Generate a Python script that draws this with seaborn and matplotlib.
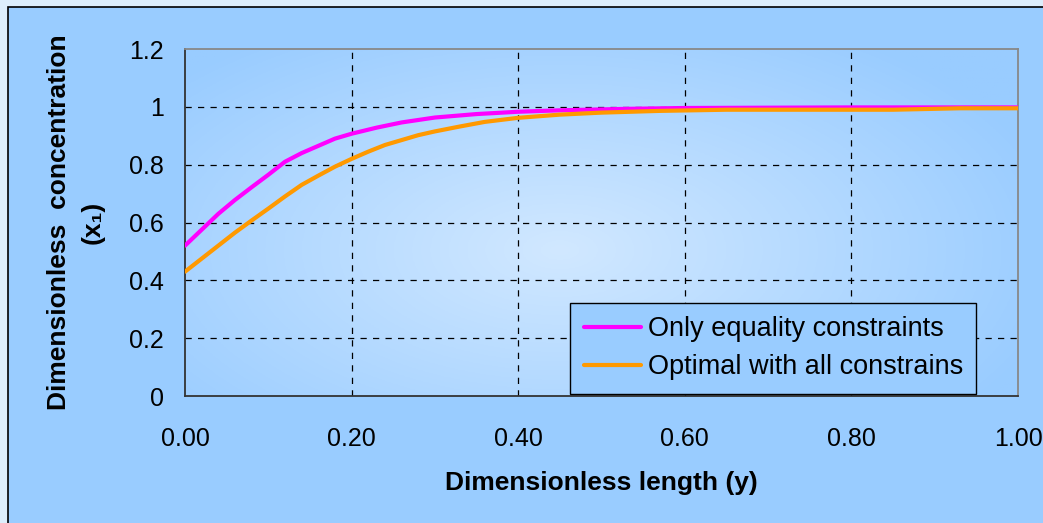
import matplotlib
matplotlib.use("Agg")
import matplotlib.pyplot as plt
import seaborn as sns
import pandas as pd
import numpy as np
from matplotlib.patches import Rectangle
from matplotlib.ticker import FuncFormatter

# series values
eq_x = [0.00, 0.02, 0.04, 0.06, 0.08, 0.10, 0.12, 0.14, 0.16, 0.18, 0.20,
        0.23, 0.26, 0.30, 0.35, 0.40, 0.45, 0.53, 0.60, 0.70, 0.80, 0.90, 1.00]
eq_y = [0.52, 0.575, 0.63, 0.678, 0.722, 0.765, 0.81, 0.84, 0.865, 0.89, 0.907,
        0.928, 0.946, 0.963, 0.975, 0.983, 0.988, 0.993, 0.996, 0.997, 0.998, 0.998, 0.998]

opt_x = [0.00, 0.02, 0.04, 0.06, 0.08, 0.10, 0.12, 0.14, 0.16, 0.18, 0.20, 0.22,
         0.24, 0.26, 0.28, 0.30, 0.33, 0.36, 0.40, 0.45, 0.50, 0.57, 0.65, 0.75,
         0.85, 0.93, 1.00]
opt_y = [0.43, 0.475, 0.52, 0.565, 0.607, 0.648, 0.69, 0.73, 0.762, 0.793, 0.82, 0.845,
         0.868, 0.885, 0.902, 0.915, 0.932, 0.948, 0.962, 0.973, 0.98, 0.986, 0.99, 0.99,
         0.99, 0.995, 0.995]

series_names = ["Only equality constraints", "Optimal with all constrains"]
series_colors = ["#FF00FF", "#FF9900"]
x_ticks = [0.0, 0.2, 0.4, 0.6, 0.8, 1.0]
y_ticks = [0.0, 0.2, 0.4, 0.6, 0.8, 1.0, 1.2]

df = pd.concat([
    pd.DataFrame({"y": eq_x, "x1": eq_y, "case": series_names[0]}),
    pd.DataFrame({"y": opt_x, "x1": opt_y, "case": series_names[1]}),
], ignore_index=True)

sns.set_style("white")
plt.rcParams['font.family'] = ['Liberation Sans', 'DejaVu Sans']
plt.rcParams['text.color'] = 'black'
plt.rcParams['axes.labelcolor'] = 'black'
plt.rcParams['xtick.color'] = 'black'
plt.rcParams['ytick.color'] = 'black'

outer_bg = "#DDEEFC"
inner_bg = "#99CCFF"

fig = plt.figure(figsize=(10.43, 5.23), dpi=100)
fig.patch.set_facecolor(outer_bg)
# chart area box (runs past the right/bottom edges like the original)
box = Rectangle((8 / 1043, -0.05), 1.2, (523 - 7) / 523 + 0.05,
                transform=fig.transFigure, facecolor=inner_bg,
                edgecolor="black", linewidth=1.2, zorder=-10)
fig.add_artist(box)

ax = fig.add_axes([185 / 1043, 127 / 523, 833 / 1043, 347 / 523])
ax.set_zorder(1)
ax.set_facecolor(inner_bg)

# light centre gradient in the plot area
gx, gy = np.meshgrid(np.linspace(0, 1, 300), np.linspace(0, 1, 200))
r = np.sqrt(((gx - 0.45) / 0.62) ** 2 + ((gy - 0.42) / 0.75) ** 2)
r = np.clip(r, 0, 1)
c0 = np.array([0.82, 0.91, 1.0])
c1 = np.array([0.60, 0.80, 1.0])
img = c0[None, None, :] * (1 - r[..., None]) + c1[None, None, :] * r[..., None]
ax.imshow(img, extent=[0, 1, 0, 1.2], origin="lower", aspect="auto", zorder=0)

for ys in y_ticks[1:-1]:
    ax.axhline(ys, color="black", linestyle=(0, (5, 5)), linewidth=0.9, zorder=1)
for xs in x_ticks[1:-1]:
    ax.axvline(xs, color="black", linestyle=(0, (5, 5)), linewidth=0.9, zorder=1)

sns.lineplot(data=df, x="y", y="x1", hue="case", palette=series_colors,
             linewidth=3, ax=ax, zorder=3, legend=True)

ax.set_xlim(0, 1)
ax.set_ylim(0, 1.2)
ax.set_xticks(x_ticks)
ax.set_yticks(y_ticks)
ax.xaxis.set_major_formatter(FuncFormatter(lambda v, p: f"{v:.2f}"))
ax.yaxis.set_major_formatter(FuncFormatter(lambda v, p: f"{v:g}"))
ax.tick_params(axis="both", direction="out", length=7, width=1, color="#333333",
               labelsize=18, pad=8)
ax.tick_params(axis="x", pad=15)

for side in ["left", "bottom"]:
    ax.spines[side].set_color("#333333")
    ax.spines[side].set_linewidth(1.3)
for side in ["top", "right"]:
    ax.spines[side].set_color("#888888")
    ax.spines[side].set_linewidth(1.3)

ax.set_xlabel("Dimensionless length (y)", fontsize=19, fontweight="bold", labelpad=15)
ax.set_ylabel("Dimensionless  concentration\n(x₁)", fontsize=19,
              fontweight="bold", labelpad=18, linespacing=1.5)

leg = ax.legend(loc="lower right", bbox_to_anchor=(0.95, 0.006), fontsize=19.5,
                frameon=True, fancybox=False, facecolor=inner_bg, edgecolor="black",
                framealpha=1, handlelength=2.1, handletextpad=0.25,
                borderpad=0.5, labelspacing=0.45, borderaxespad=0)
leg.get_frame().set_linewidth(1)
for line in leg.get_lines():
    line.set_linewidth(3)

fig.savefig("out.png", dpi=100, facecolor=fig.get_facecolor())
